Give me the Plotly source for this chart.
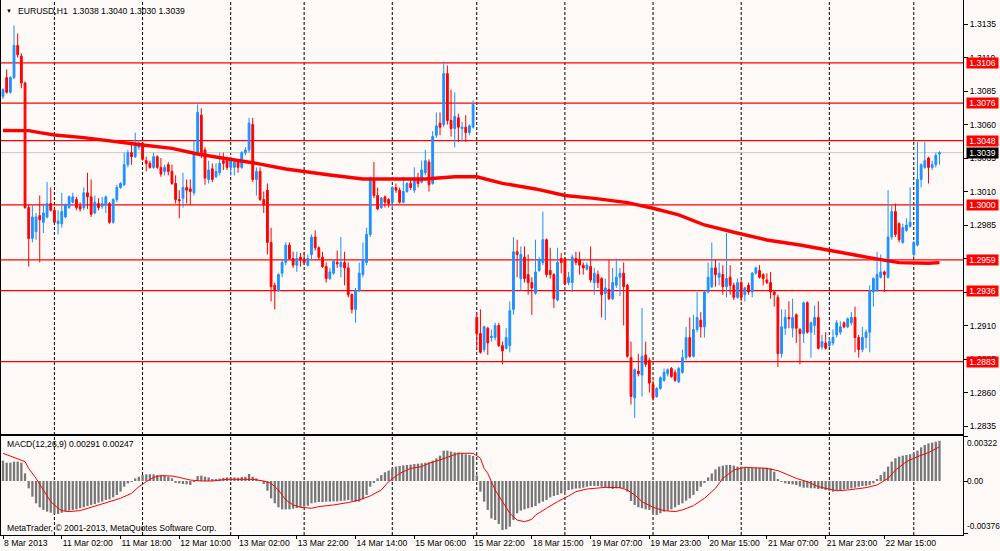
import plotly.graph_objects as go

# ---------------- data ----------------
opens = [
1.3081,1.3095,1.3084,1.3095,1.3119,1.3111,1.3091,1.2998,1.2975,1.2980,
1.2992,1.2987,1.2991,1.3001,1.2996,1.2986,1.2986,1.2991,1.2998,1.3002,
1.3004,1.2999,1.2998,1.3009,1.3006,1.2994,1.3001,1.2999,1.3000,1.3001,
1.2987,1.3004,1.3013,1.3015,1.3030,1.3039,1.3036,1.3043,1.3046,1.3033,
1.3031,1.3028,1.3036,1.3028,1.3025,1.3030,1.3025,1.3016,1.3004,1.3005,
1.3013,1.3012,1.3009,1.3039,1.3067,1.3041,1.3019,1.3027,1.3021,1.3024,
1.3033,1.3033,1.3028,1.3028,1.3032,1.3028,1.3039,1.3041,1.3060,1.3019,
1.3025,1.3004,1.3011,1.2972,1.2940,1.2936,1.2949,1.2957,1.2970,1.2960,
1.2955,1.2961,1.2959,1.2955,1.2963,1.2976,1.2968,1.2961,1.2954,1.2945,
1.2949,1.2957,1.2954,1.2957,1.2953,1.2933,1.2922,1.2936,1.2948,1.2957,
1.2978,1.3020,1.3007,1.2998,1.3006,1.3004,1.3002,1.3013,1.3011,1.3002,
1.3010,1.3016,1.3011,1.3020,1.3017,1.3024,1.3032,1.3016,1.3052,1.3061,
1.3060,1.3098,1.3063,1.3057,1.3065,1.3057,1.3058,1.3054,1.3058,1.2916,
1.2904,1.2892,1.2908,1.2901,1.2901,1.2910,1.2895,1.2893,1.2895,1.2922,
1.2965,1.2945,1.2961,1.2948,1.2942,1.2934,1.2951,1.2957,1.2974,1.2951,
1.2948,1.2929,1.2960,1.2960,1.2942,1.2942,1.2960,1.2959,1.2955,1.2952,
1.2954,1.2942,1.2948,1.2945,1.2934,1.2937,1.2930,1.2940,1.2946,1.2949,
1.2940,1.2886,1.2856,1.2876,1.2873,1.2888,1.2884,1.2866,1.2857,1.2863,
1.2869,1.2874,1.2878,1.2875,1.2868,1.2875,1.2886,1.2901,1.2887,1.2907,
1.2914,1.2909,1.2935,1.2939,1.2953,1.2946,1.2948,1.2939,1.2946,1.2940,
1.2931,1.2942,1.2933,1.2940,1.2935,1.2949,1.2951,1.2948,1.2944,1.2942,
1.2935,1.2931,1.2889,1.2908,1.2916,1.2908,1.2918,1.2907,1.2904,1.2927,
1.2905,1.2910,1.2916,1.2894,1.2897,1.2895,1.2897,1.2903,1.2905,1.2912,
1.2909,1.2912,1.2916,1.2901,1.2892,1.2901,1.2905,1.2935,1.2936,1.2946,
1.2950,1.2946,1.2976,1.2995,1.2986,1.2972,1.2981,1.2984,1.2963,1.2970,
1.3019,1.3028,1.3035,1.3028,1.3030,1.3038]

highs = [
1.3087,1.3101,1.3096,1.3134,1.3128,1.3113,1.3092,1.3000,1.3000,1.2994,
1.3007,1.3001,1.3017,1.3013,1.2998,1.2996,1.3009,1.3001,1.3007,1.3009,
1.3006,1.3002,1.3013,1.3024,1.3019,1.3007,1.3005,1.3006,1.3007,1.3002,
1.3005,1.3015,1.3017,1.3039,1.3041,1.3046,1.3054,1.3048,1.3047,1.3036,
1.3033,1.3039,1.3037,1.3035,1.3030,1.3032,1.3030,1.3022,1.3011,1.3024,
1.3019,1.3019,1.3048,1.3075,1.3072,1.3043,1.3033,1.3031,1.3031,1.3039,
1.3039,1.3036,1.3036,1.3035,1.3033,1.3040,1.3043,1.3065,1.3065,1.3028,
1.3028,1.3010,1.3016,1.2983,1.2942,1.2949,1.2959,1.2972,1.2972,1.2965,
1.2965,1.2964,1.2965,1.2963,1.2978,1.2981,1.2969,1.2965,1.2957,1.2953,
1.2959,1.2966,1.2976,1.2965,1.2957,1.2934,1.2938,1.2957,1.2972,1.2983,
1.3021,1.3032,1.3013,1.3006,1.3007,1.3005,1.3014,1.3016,1.3013,1.3021,
1.3017,1.3019,1.3028,1.3024,1.3033,1.3041,1.3034,1.3055,1.3069,1.3069,
1.3107,1.3104,1.3086,1.3084,1.3068,1.3062,1.3067,1.3060,1.3078,1.2920,
1.2922,1.2910,1.2909,1.2907,1.2912,1.2912,1.2898,1.2908,1.2928,1.2976,
1.2974,1.2969,1.2969,1.2963,1.2946,1.2974,1.2961,1.2995,1.2975,1.2968,
1.2949,1.2968,1.2964,1.2961,1.2950,1.2963,1.2965,1.2965,1.2957,1.2957,
1.2969,1.2953,1.2951,1.2946,1.2945,1.2959,1.2953,1.2960,1.2953,1.2957,
1.2941,1.2898,1.2878,1.2889,1.2923,1.2898,1.2886,1.2869,1.2864,1.2872,
1.2878,1.2878,1.2879,1.2877,1.2879,1.2892,1.2909,1.2916,1.2918,1.2935,
1.2920,1.2936,1.2957,1.2972,1.2959,1.2957,1.2955,1.2979,1.2955,1.2942,
1.2945,1.2944,1.2939,1.2942,1.2950,1.2954,1.2955,1.2949,1.2949,1.2950,
1.2936,1.2933,1.2922,1.2922,1.2928,1.2930,1.2919,1.2908,1.2928,1.2928,
1.2913,1.2925,1.2928,1.2903,1.2905,1.2901,1.2907,1.2914,1.2913,1.2913,
1.2916,1.2920,1.2924,1.2903,1.2909,1.2907,1.2940,1.2946,1.2965,1.2963,
1.2951,1.3011,1.3000,1.3001,1.2987,1.2986,1.2990,1.3013,1.2973,1.3047,
1.3031,1.3047,1.3036,1.3033,1.3039,1.3040]

lows = [
1.3079,1.3083,1.3083,1.3094,1.3110,1.3087,1.2997,1.2954,1.2972,1.2974,
1.2957,1.2979,1.2990,1.2995,1.2986,1.2978,1.2983,1.2990,1.2997,1.3001,
1.2996,1.2995,1.2996,1.2997,1.2991,1.2993,1.2996,1.2997,1.2994,1.2986,
1.2986,1.3002,1.3012,1.3014,1.3028,1.3030,1.3035,1.3041,1.3033,1.3025,
1.3027,1.3027,1.3027,1.3021,1.3022,1.3022,1.3015,1.3001,1.2990,1.2998,
1.3001,1.3000,1.3007,1.3038,1.3035,1.3015,1.3016,1.3017,1.3020,1.3022,
1.3026,1.3026,1.3022,1.3022,1.3024,1.3027,1.3037,1.3039,1.3017,1.3007,
1.3003,1.2994,1.2963,1.2928,1.2922,1.2935,1.2946,1.2955,1.2959,1.2953,
1.2950,1.2954,1.2955,1.2954,1.2959,1.2966,1.2959,1.2953,1.2942,1.2944,
1.2948,1.2953,1.2946,1.2940,1.2931,1.2919,1.2912,1.2935,1.2946,1.2955,
1.2976,1.3005,1.2996,1.2997,1.2998,1.2998,1.2997,1.3009,1.3001,1.3001,
1.3009,1.3011,1.3009,1.3013,1.3016,1.3022,1.3010,1.3015,1.3050,1.3052,
1.3058,1.3060,1.3051,1.3043,1.3047,1.3047,1.3047,1.3052,1.3057,1.2892,
1.2889,1.2890,1.2888,1.2898,1.2899,1.2894,1.2881,1.2892,1.2890,1.2918,
1.2946,1.2936,1.2942,1.2933,1.2918,1.2933,1.2950,1.2955,1.2946,1.2945,
1.2923,1.2928,1.2949,1.2940,1.2940,1.2935,1.2955,1.2948,1.2948,1.2951,
1.2942,1.2933,1.2938,1.2916,1.2914,1.2929,1.2929,1.2938,1.2932,1.2910,
1.2886,1.2851,1.2841,1.2872,1.2857,1.2879,1.2860,1.2854,1.2856,1.2862,
1.2868,1.2872,1.2871,1.2868,1.2867,1.2874,1.2884,1.2886,1.2886,1.2905,
1.2901,1.2901,1.2934,1.2938,1.2939,1.2940,1.2933,1.2931,1.2933,1.2929,
1.2930,1.2928,1.2928,1.2933,1.2931,1.2948,1.2945,1.2940,1.2941,1.2930,
1.2924,1.2879,1.2886,1.2903,1.2908,1.2901,1.2897,1.2881,1.2897,1.2904,
1.2886,1.2903,1.2892,1.2892,1.2892,1.2894,1.2895,1.2901,1.2903,1.2908,
1.2908,1.2910,1.2890,1.2886,1.2890,1.2893,1.2890,1.2924,1.2935,1.2945,
1.2935,1.2945,1.2974,1.2976,1.2972,1.2971,1.2980,1.2983,1.2961,1.2969,
1.3013,1.3027,1.3016,1.3026,1.3028,1.3030]

closes = [
1.3086,1.3084,1.3095,1.3119,1.3112,1.3091,1.2998,1.2975,1.2991,1.2991,
1.2989,1.2994,1.3001,1.2996,1.2987,1.2988,1.2995,1.3000,1.3006,1.3006,
1.2998,1.2997,1.3009,1.3006,1.2993,1.3002,1.2998,1.3001,1.3006,1.2987,
1.3004,1.3013,1.3016,1.3030,1.3039,1.3036,1.3046,1.3046,1.3034,1.3031,
1.3028,1.3036,1.3028,1.3023,1.3028,1.3025,1.3016,1.3004,1.3003,1.3013,
1.3011,1.3010,1.3039,1.3069,1.3039,1.3020,1.3026,1.3019,1.3025,1.3031,
1.3031,1.3028,1.3033,1.3032,1.3028,1.3039,1.3041,1.3061,1.3019,1.3025,
1.3004,1.3000,1.2972,1.2939,1.2936,1.2948,1.2957,1.2970,1.2960,1.2955,
1.2960,1.2959,1.2957,1.2960,1.2976,1.2968,1.2961,1.2954,1.2945,1.2950,
1.2958,1.2956,1.2957,1.2953,1.2933,1.2922,1.2936,1.2949,1.2959,1.2978,
1.3020,1.3007,1.2997,1.3005,1.3002,1.3001,1.3013,1.3011,1.3002,1.3010,
1.3016,1.3013,1.3020,1.3016,1.3026,1.3033,1.3015,1.3051,1.3059,1.3058,
1.3098,1.3063,1.3057,1.3066,1.3058,1.3058,1.3054,1.3059,1.3075,1.2904,
1.2890,1.2909,1.2897,1.2902,1.2910,1.2895,1.2891,1.2901,1.2921,1.2965,
1.2963,1.2963,1.2945,1.2942,1.2938,1.2950,1.2959,1.2974,1.2948,1.2948,
1.2930,1.2957,1.2957,1.2941,1.2946,1.2961,1.2957,1.2955,1.2953,1.2955,
1.2944,1.2949,1.2942,1.2933,1.2938,1.2930,1.2942,1.2946,1.2949,1.2939,
1.2887,1.2857,1.2877,1.2874,1.2887,1.2881,1.2867,1.2856,1.2863,1.2871,
1.2875,1.2877,1.2872,1.2869,1.2878,1.2886,1.2901,1.2887,1.2907,1.2916,
1.2909,1.2935,1.2946,1.2953,1.2948,1.2949,1.2939,1.2945,1.2940,1.2931,
1.2942,1.2931,1.2938,1.2935,1.2949,1.2953,1.2946,1.2945,1.2942,1.2935,
1.2933,1.2889,1.2909,1.2916,1.2915,1.2916,1.2908,1.2904,1.2927,1.2905,
1.2912,1.2916,1.2893,1.2898,1.2893,1.2898,1.2901,1.2912,1.2909,1.2909,
1.2915,1.2916,1.2901,1.2892,1.2901,1.2905,1.2936,1.2945,1.2948,1.2950,
1.2948,1.2976,1.2995,1.2978,1.2974,1.2983,1.2985,1.2987,1.2972,1.3019,
1.3030,1.3033,1.3028,1.3030,1.3037,1.3039]

macd_main = [
0.00147,0.00132,0.00132,0.00140,0.00140,0.00132,0.00055,-0.00053,-0.00113,-0.00161,
-0.00190,-0.00209,-0.00221,-0.00229,-0.00238,-0.00238,-0.00229,-0.00221,-0.00214,-0.00209,
-0.00205,-0.00197,-0.00190,-0.00181,-0.00173,-0.00166,-0.00156,-0.00149,-0.00137,-0.00132,
-0.00118,-0.00101,-0.00077,-0.00041,-0.00017,-0.00005,0.00019,0.00031,0.00043,0.00048,
0.00048,0.00048,0.00043,0.00039,0.00039,0.00031,0.00019,-0.00010,-0.00017,-0.00022,
-0.00024,-0.00029,-0.00005,0.00036,0.00039,0.00031,0.00026,0.00014,0.00012,0.00017,
0.00022,0.00026,0.00026,0.00026,0.00024,0.00029,0.00031,0.00051,0.00031,0.00019,
0.00002,-0.00022,-0.00070,-0.00125,-0.00161,-0.00190,-0.00205,-0.00205,-0.00205,-0.00200,
-0.00195,-0.00190,-0.00185,-0.00178,-0.00161,-0.00156,-0.00152,-0.00152,-0.00149,-0.00149,
-0.00147,-0.00147,-0.00144,-0.00142,-0.00137,-0.00142,-0.00149,-0.00149,-0.00132,-0.00101,
-0.00041,-0.00012,0.00019,0.00043,0.00063,0.00075,0.00091,0.00104,0.00108,0.00113,
0.00116,0.00118,0.00123,0.00125,0.00128,0.00132,0.00135,0.00147,0.00164,0.00183,
0.00219,0.00219,0.00212,0.00207,0.00205,0.00200,0.00193,0.00188,0.00181,0.00040,
-0.00077,-0.00149,-0.00209,-0.00270,-0.00282,-0.00310,-0.00354,-0.00349,-0.00330,-0.00282,
-0.00233,-0.00214,-0.00205,-0.00197,-0.00190,-0.00181,-0.00161,-0.00149,-0.00137,-0.00118,
-0.00108,-0.00101,-0.00089,-0.00077,-0.00065,-0.00060,-0.00055,-0.00053,-0.00048,-0.00041,
-0.00036,-0.00036,-0.00036,-0.00041,-0.00046,-0.00053,-0.00058,-0.00053,-0.00053,-0.00053,
-0.00077,-0.00144,-0.00173,-0.00190,-0.00197,-0.00205,-0.00209,-0.00233,-0.00246,-0.00233,
-0.00221,-0.00214,-0.00205,-0.00190,-0.00173,-0.00161,-0.00142,-0.00125,-0.00101,-0.00072,
-0.00041,-0.00012,0.00026,0.00055,0.00084,0.00104,0.00111,0.00116,0.00116,0.00111,
0.00104,0.00104,0.00099,0.00096,0.00096,0.00096,0.00096,0.00096,0.00096,0.00091,
0.00067,0.00012,-0.00007,-0.00017,-0.00022,-0.00024,-0.00029,-0.00041,-0.00048,-0.00048,
-0.00053,-0.00053,-0.00058,-0.00058,-0.00065,-0.00070,-0.00077,-0.00072,-0.00065,-0.00060,
-0.00058,-0.00053,-0.00048,-0.00041,-0.00036,-0.00034,-0.00029,-0.00017,0.00012,0.00043,
0.00067,0.00104,0.00140,0.00164,0.00176,0.00183,0.00188,0.00193,0.00200,0.00219,
0.00243,0.00260,0.00272,0.00277,0.00284,0.00291]

signal_bars = [0,3,6,7,9,11,13,15,16,18,21,24,26,29,32,35,37,39,41,43,46,48,51,54,57,61,65,68,71,73,75,77,79,81,84,86,90,94,97,100,103,105,108,111,114,116,119,122,124,128,130,131,132,133,134,136,138,140,142,144,145,148,151,154,156,159,162,164,168,170,172,174,177,180,183,185,188,191,194,196,199,202,204,208,211,213,216,219,222,224,227,230,233,235,238,241,243,246,249,252,255]
signal_values = [0.00200,0.00171,0.00140,0.00091,0.00019,-0.00065,-0.00149,-0.00197,-0.00214,-0.00221,-0.00214,-0.00190,-0.00173,-0.00149,-0.00125,-0.00089,-0.00041,-0.00005,0.00026,0.00039,0.00036,0.00026,0.00007,0.00000,0.00000,0.00012,0.00014,0.00012,0.00000,-0.00017,-0.00065,-0.00137,-0.00173,-0.00190,-0.00197,-0.00185,-0.00173,-0.00156,-0.00137,-0.00108,-0.00065,-0.00005,0.00055,0.00091,0.00104,0.00128,0.00152,0.00181,0.00200,0.00200,0.00164,0.00091,0.00055,-0.00005,-0.00065,-0.00149,-0.00233,-0.00282,-0.00294,-0.00277,-0.00246,-0.00197,-0.00149,-0.00108,-0.00077,-0.00058,-0.00048,-0.00046,-0.00048,-0.00065,-0.00101,-0.00149,-0.00190,-0.00214,-0.00221,-0.00209,-0.00178,-0.00125,-0.00053,0.00019,0.00079,0.00099,0.00096,0.00091,0.00075,0.00051,0.00019,-0.00005,-0.00041,-0.00053,-0.00070,-0.00065,-0.00058,-0.00048,-0.00029,0.00019,0.00079,0.00140,0.00176,0.00205,0.00247]

ma_bars = [0,7,10,14,22,30,38,46,53,60,69,77,82,89,98,115,123,129,136,145,153,161,170,177,184,191,199,208,217,225,232,237,244,252,255]
ma_values = [1.30555,1.30554,1.30539,1.30522,1.30502,1.30472,1.30447,1.30422,1.30380,1.30348,1.30310,1.30268,1.30248,1.30223,1.30193,1.30193,1.30210,1.30210,1.30161,1.30119,1.30070,1.30049,1.30017,1.29975,1.29925,1.29850,1.29796,1.29738,1.29701,1.29664,1.29626,1.29601,1.29569,1.29564,1.29569]

level_prices = [1.3106, 1.3076, 1.3048, 1.3000, 1.2959, 1.2936, 1.2883]
bid_price = 1.3039

separator_bars = [14, 38, 62, 82, 106, 129, 153, 177, 201, 225, 248]

label_bars = [0, 16, 32, 48, 64, 80, 96, 112, 128, 144, 160, 176, 192, 208, 224, 240]
label_texts = ["8 Mar 2013", "11 Mar 02:00", "11 Mar 18:00", "12 Mar 10:00", "13 Mar 02:00",
               "13 Mar 22:00", "14 Mar 14:00", "15 Mar 06:00", "15 Mar 22:00", "18 Mar 15:00",
               "19 Mar 07:00", "19 Mar 23:00", "20 Mar 15:00", "21 Mar 07:00", "21 Mar 23:00",
               "22 Mar 15:00"]

macd_axis_values = [0.00322, 0.0, -0.00376]
macd_axis_texts = ["0.00322", "0.00", "-0.00376"]

title_text = "EURUSD,H1\u00a0 1.3038 1.3040 1.3030 1.3039"
macd_title = "MACD(12,26,9) 0.00291 0.00247"
copyright_text = "MetaTrader, \u00a9 2001-2013, MetaQuotes Software Corp."

# ---------------- figure ----------------
BG = "#FCF9F7"
FONT = "Liberation Sans, Arial, sans-serif"
FS = 8.6
bars = list(range(len(opens)))

fig = go.Figure()
fig.add_trace(go.Candlestick(
    x=bars, open=opens, high=highs, low=lows, close=closes,
    increasing=dict(line=dict(color="#1E90FF", width=1), fillcolor="#1E90FF"),
    decreasing=dict(line=dict(color="#FF0000", width=1), fillcolor="#FF0000"),
    whiskerwidth=0, hoverinfo="skip", showlegend=False, xaxis="x", yaxis="y"))
fig.add_trace(go.Scatter(
    x=ma_bars, y=ma_values, mode="lines", line=dict(color="#FF0000", width=3.4),
    hoverinfo="skip", showlegend=False, xaxis="x", yaxis="y"))
fig.add_trace(go.Bar(
    x=bars, y=macd_main, width=0.62, marker=dict(color="#777777", line=dict(width=0)),
    hoverinfo="skip", showlegend=False, xaxis="x2", yaxis="y2"))
fig.add_trace(go.Scatter(
    x=signal_bars, y=signal_values, mode="lines", line=dict(color="#FF0000", width=1),
    hoverinfo="skip", showlegend=False, xaxis="x2", yaxis="y2"))

xr = [-0.545, 261.4]
xdom = [0.001, 0.963]
main_dom = [1 - 434 / 551, 1.0]
macd_dom = [1 - 535 / 551, 1 - 436 / 551]

shapes = []
for b in separator_bars:
    shapes.append(dict(type="line", xref="x", yref="paper", x0=b, x1=b,
                       y0=macd_dom[0], y1=1.0, layer="below",
                       line=dict(color="#000000", width=1, dash="3px,2px")))
shapes.append(dict(type="line", xref="paper", yref="y", x0=xdom[0], x1=xdom[1],
                   y0=bid_price, y1=bid_price, layer="below",
                   line=dict(color="#C8C8C8", width=1)))
for p in level_prices:
    shapes.append(dict(type="line", xref="paper", yref="y", x0=xdom[0], x1=xdom[1],
                       y0=p, y1=p, layer="below",
                       line=dict(color="#FF0000", width=1.2)))

annotations = []
annotations.append(dict(xref="paper", yref="paper", x=0.004, y=1 - 10.5 / 551,
                        xanchor="left", yanchor="middle", text="\u25bc", showarrow=False,
                        font=dict(family=FONT, size=6, color="#000000")))
annotations.append(dict(xref="paper", yref="paper", x=0.0155, y=1 - 10.5 / 551,
                        xanchor="left", yanchor="middle", text=title_text, showarrow=False,
                        font=dict(family=FONT, size=FS, color="#000000")))
annotations.append(dict(xref="paper", yref="paper", x=0.005, y=1 - 443.5 / 551,
                        xanchor="left", yanchor="middle", text=macd_title, showarrow=False,
                        font=dict(family=FONT, size=FS, color="#000000")))
annotations.append(dict(xref="paper", yref="paper", x=0.005, y=1 - 527.5 / 551,
                        xanchor="left", yanchor="middle", text=copyright_text, showarrow=False,
                        font=dict(family=FONT, size=FS, color="#000000")))
for p in level_prices:
    annotations.append(dict(xref="paper", yref="y", x=0.9657, y=p, xanchor="left",
                            yanchor="middle", text=f"{p:.4f}", showarrow=False,
                            bgcolor="#FF0000", width=31, height=10, borderpad=0,
                            font=dict(family=FONT, size=FS, color="#FFFFFF")))
annotations.append(dict(xref="paper", yref="y", x=0.9657, y=bid_price, xanchor="left",
                        yanchor="middle", text=f"{bid_price:.4f}", showarrow=False,
                        bgcolor="#000000", width=31, height=10, borderpad=0,
                        font=dict(family=FONT, size=FS, color="#FFFFFF")))
anchors = ["top", "middle", "bottom"]
for v, t, a in zip(macd_axis_values, macd_axis_texts, anchors):
    annotations.append(dict(xref="paper", yref="y2", x=0.9645, y=v, xanchor="left",
                            yanchor=a, text=t, showarrow=False,
                            font=dict(family=FONT, size=8.3, color="#000000")))

fig.update_layout(
    width=1000, height=551, margin=dict(l=0, r=0, t=0, b=0),
    paper_bgcolor=BG, plot_bgcolor="rgba(0,0,0,0)",
    showlegend=False, boxgap=0.3, boxgroupgap=0.3, bargap=0.3,
    font=dict(family=FONT, size=FS, color="#000000"),
    shapes=shapes, annotations=annotations,
    xaxis=dict(domain=xdom, range=xr, anchor="y", showgrid=False, zeroline=False,
               showticklabels=False, ticks="", showline=True, linecolor="#000000",
               linewidth=1, mirror=True, rangeslider=dict(visible=False), fixedrange=True),
    yaxis=dict(domain=main_dom, range=[1.282903, 1.315291], anchor="x", side="right",
               tick0=1.2835, dtick=0.0025, tickformat=".4f", ticks="outside", ticklen=4,
               tickcolor="#000000", showgrid=False, zeroline=False, showline=True,
               linecolor="#000000", linewidth=1, mirror=True,
               tickfont=dict(family=FONT, size=FS, color="#000000"), fixedrange=True),
    xaxis2=dict(domain=xdom, range=xr, anchor="y2", showgrid=False, zeroline=False,
                tickmode="array", tickvals=label_bars, ticktext=label_texts,
                ticks="outside", ticklen=3, tickcolor="#000000", tickangle=0,
                ticklabelposition="outside right",
                tickfont=dict(family=FONT, size=FS, color="#000000"),
                showline=True, linecolor="#000000", linewidth=1, mirror=True, fixedrange=True),
    yaxis2=dict(domain=macd_dom, range=[-0.0039, 0.00325], anchor="x2", side="right",
                tickmode="array", tickvals=macd_axis_values, showticklabels=False,
                ticks="outside", ticklen=4, tickcolor="#000000", showgrid=False,
                zeroline=False, showline=True, linecolor="#000000", linewidth=1,
                mirror=True, fixedrange=True),
)

fig.write_html("out.html", config={"displayModeBar": False},
               post_script="document.body.style.margin='0';document.body.style.overflow='hidden';")
